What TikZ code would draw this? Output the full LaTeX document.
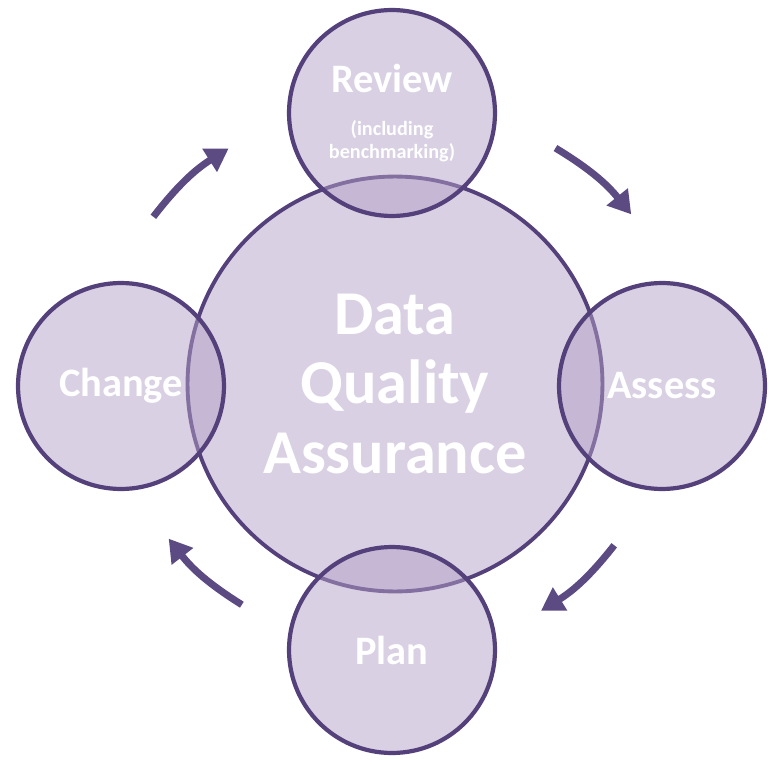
\documentclass[tikz,border=0pt]{standalone}
\usepackage{fontspec}
\setmainfont{Carlito}
\usetikzlibrary{arrows.meta}
\definecolor{qafill}{RGB}{179,161,199}
\definecolor{qaline}{RGB}{84,64,122}
\definecolor{qaarrow}{RGB}{92,74,130}
\tikzstyle{hub} = [circle, draw=qaline, fill=qafill, fill opacity=0.5, text opacity=1, line width=2.2pt, minimum size=8.3cm, text=white, align=center, font=\bfseries\fontsize{35.5}{39.5}\selectfont]
\tikzstyle{stage} = [circle, draw=qaline, fill=qafill, fill opacity=0.5, text opacity=1, line width=2.4pt, minimum size=4.12cm, text=white, align=center, font=\bfseries\fontsize{23}{27}\selectfont]
\tikzstyle{flow} = [-{Triangle[length=0.45cm,width=0.52cm]}, draw=qaarrow, line width=4pt]

\begin{document}
\begin{tikzpicture}[x=0.02cm,y=0.02cm]
\useasboundingbox (-395,-378) rectangle (375,386);

% Diagram nodes
\node[hub](dqa) at (0,2) {Data\\Quality\\Assurance};

\node[stage,font=\bfseries\fontsize{11.5}{13.5}\selectfont](review) at (-3,273) {{\fontsize{23}{27}\selectfont Review}\\[11pt](including\\benchmarking)};
\node[stage](assess) at (267,0) {Assess};
\node[stage](plan) at (-3,-264) {Plan};
\node[stage](change) at (-274,0) {Change};

% Arrow ends
\coordinate (chg-out) at (145:295);
\coordinate (rev-in) at (125:290);
\coordinate (rev-out) at (56:287);
\coordinate (ass-in) at (36:292);
\coordinate (ass-out) at (-36:271);
\coordinate (pln-in) at (-57:268);
\coordinate (pln-out) at (-125:267);
\coordinate (chg-in) at (-146:273);

% Draw connectors
\draw[flow](chg-out) to[bend left=10] (rev-in);
\draw[flow](rev-out) to[bend left=10] (ass-in);
\draw[flow](ass-out) to[bend left=10] (pln-in);
\draw[flow](pln-out) to[bend left=10] (chg-in);

\end{tikzpicture}
\end{document}
